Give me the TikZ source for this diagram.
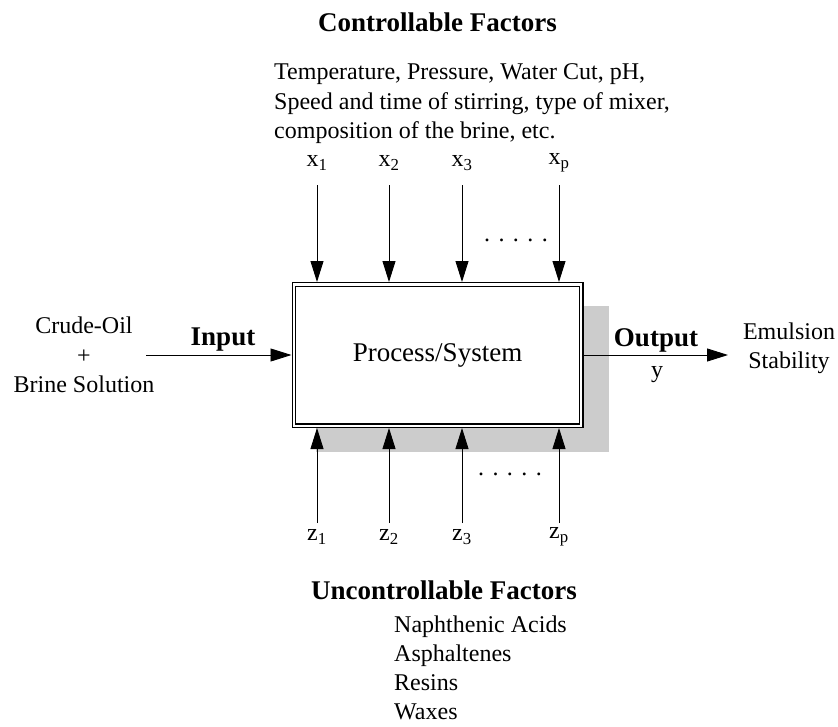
\documentclass[tikz,border=0pt]{standalone}
\usepackage{fontspec}
\setmainfont{Liberation Serif}
\usetikzlibrary{arrows.meta}
\begin{document}
\begin{tikzpicture}[x=1pt,y=-1pt,
  reg/.style={font=\fontsize{24}{29.5}\selectfont, inner sep=0pt},
  big/.style={font=\fontsize{27}{32}\selectfont, inner sep=0pt},
  bld/.style={font=\fontsize{27}{32}\selectfont\bfseries, inner sep=0pt},
  arr/.style={line width=0.9pt, -{Triangle[width=13pt,length=21pt]}},
  dots/.style={font=\fontsize{24}{29}\selectfont, inner sep=0pt},
]
\useasboundingbox (0,0) rectangle (838,726);
% shadow
\fill[black!20] (316,305.5) rectangle (608.5,452);
% process box
\node (box) at (437.5,355) [draw=black, line width=1.3pt, double=white, double distance=2.2pt,
   fill=white, minimum width=287.2pt, minimum height=141.2pt, outer sep=2.4pt, big] {Process/System};

% titles and texts
\node[bld] (ctitle) at (437.5,22) {Controllable Factors};
\node[reg, align=left, anchor=west] (ctext) at (274,104)
  {Temperature, Pressure, Water Cut, pH,\\Speed and time of stirring, type of mixer,\\composition of the brine, etc.};
\node[bld] (utitle) at (444,590) {Uncontrollable Factors};
\node[reg, align=left, anchor=west, font=\fontsize{24}{28.8}\selectfont] (utext) at (394,668)
  {Naphthenic Acids\\Asphaltenes\\Resins\\Waxes};

% input / output
\node[reg, align=center, font=\fontsize{24}{29.5}\selectfont] (src) at (84,355) {Crude-Oil\\+\\Brine Solution};
\node[bld] (inlab) at (223,340) {Input};
\coordinate (inl) at (146,355);
\draw[arr] (inl) -- (box.west |- inl);
\node[bld] (outlab) at (656,340) {Output};
\node[reg] (ylab) at (657,375) {y};
\coordinate (outr) at (728,355);
\draw[arr] (box.east |- outr) -- (outr);
\node[reg, align=center, font=\fontsize{24}{29}\selectfont] (res) at (789,348) {Emulsion\\Stability};

% controllable and uncontrollable factor arrows
\foreach \i/\x/\s in {1/317/1, 2/389/2, 3/462/3, 4/559/p} {
  \node[reg] (x\i) at (\x,163) {x\textsubscript{\s}};
  \coordinate (xs\i) at (\x,185);
  \draw[arr] (xs\i) -- (xs\i |- box.north);
  \node[reg] (z\i) at (\x,537) {z\textsubscript{\s}};
  \coordinate (zs\i) at (\x,523);
  \draw[arr] (zs\i) -- (zs\i |- box.south);
}
\node[dots] (tdots) at (516,240) {.\hspace{8.5pt}.\hspace{8.5pt}.\hspace{8.5pt}.\hspace{8.5pt}.};
\node[dots] (bdots) at (510,474) {.\hspace{8.5pt}.\hspace{8.5pt}.\hspace{8.5pt}.\hspace{8.5pt}.};
\end{tikzpicture}
\end{document}
